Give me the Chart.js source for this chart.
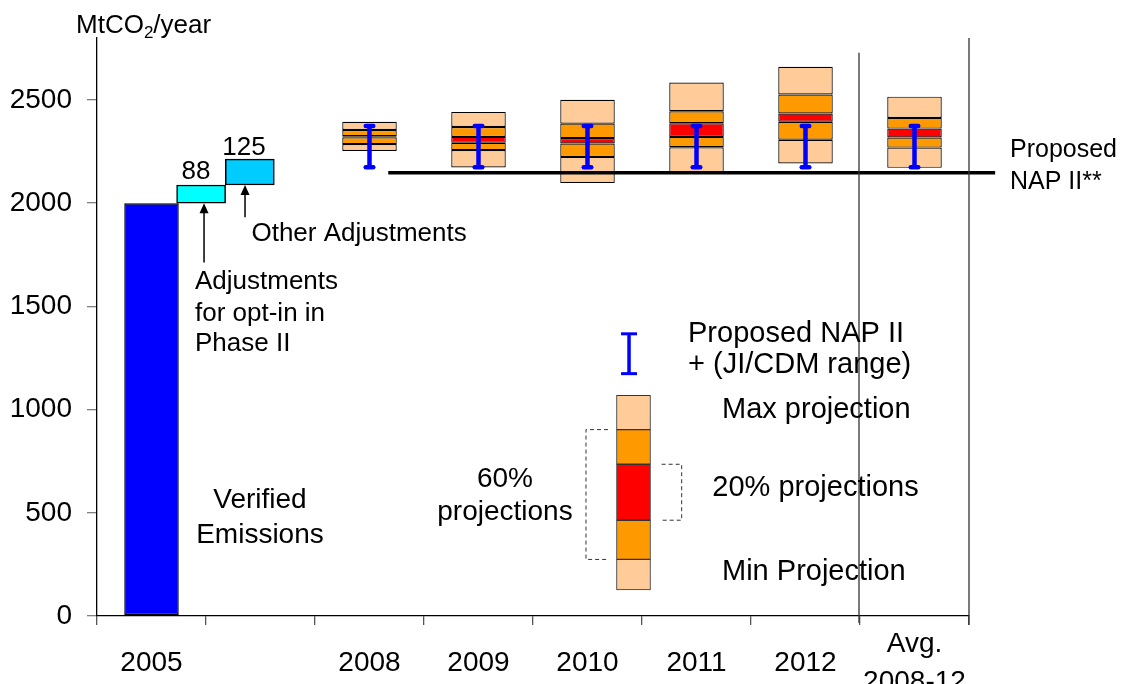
<!DOCTYPE html>
<html>
<head>
<meta charset="utf-8">
<script src="https://cdn.jsdelivr.net/npm/chart.js@4.4.1/dist/chart.umd.min.js"></script>
<style>
  html, body { margin: 0; padding: 0; background: #fff; }
  canvas { display: block; }
</style>
</head>
<body>
<canvas id="nap-chart" width="1123" height="684"></canvas>
<script>
const FONT = "'Liberation Sans', Arial, sans-serif";

// x axis categories
const categories = ["2005", "", "2008", "2009", "2010", "2011", "2012", ["Avg.", "2008-12"]];

// y axis ticks
const yTicks = [0, 500, 1000, 1500, 2000, 2500];

// verified emissions 2005
const verified = [2000, null, null, null, null, null, null, null];

// adjustments stacked on top of 2005
const adjustments = [88, 125];

// projection bands, MtCO2/year
const projMin    = [null, null, 2253, 2173, 2097, 2145, 2192, 2171];
const proj60Low  = [null, null, 2286, 2257, 2224, 2271, 2307, 2269];
const proj20Low  = [null, null, 2319, 2292, 2289, 2321, 2394, 2318];
const proj20High = [null, null, 2324, 2321, 2315, 2387, 2434, 2361];
const proj60High = [null, null, 2354, 2369, 2385, 2445, 2526, 2413];
const projMax    = [null, null, 2394, 2442, 2501, 2584, 2661, 2516];

// proposed NAP II + JI/CDM range
const napLow  = [null, null, 2174, 2174, 2174, 2174, 2174, 2174];
const napHigh = [null, null, 2374, 2374, 2374, 2374, 2374, 2374];
const napProposed = 2147;

// key (legend) drawn inside the plot
const keyBands = [126, 274, 464, 735, 903, 1069];
const keyRange = [1174, 1367];

const PEACH = "#FFCC99";
const ORANGE = "#FF9900";
const RED = "#FF0000";

// waterfall steps from the 2005 value
const waterfall = [];
let running = verified[0];
const stepPos = [0.955, 1.402];
adjustments.forEach((a, i) => {
	waterfall.push({ x: stepPos[i], y: [running, running + a] });
	running += a;
});

function band(lo, hi, color) {
	return {
		type: "bar",
		data: lo.map((v, i) => (v == null ? null : [v, hi[i]])),
		backgroundColor: color,
		borderColor: "#000",
		borderWidth: 1.2,
		borderSkipped: false,
		grouped: false,
		categoryPercentage: 0.5,
		barPercentage: 1,
		order: 3,
	};
}

const keyX = 4.922;
function keyBand(i, color) {
	return {
		type: "bar",
		xAxisID: "xw",
		data: [{ x: keyX, y: [keyBands[i], keyBands[i + 1]] }],
		backgroundColor: color,
		borderColor: "#333",
		borderWidth: 1,
		borderSkipped: false,
		grouped: false,
		barThickness: 34,
		categoryPercentage: 1,
		barPercentage: 1,
		order: 3,
	};
}

// text labels: u = position on the 0..8 helper axis, v = value axis
const notes = [
	{ t: "88", u: 0.908, v: 2119, a: "center", s: 26 },
	{ t: "125", u: 1.349, v: 2231, a: "center", s: 26 },
	{ t: "Other Adjustments", u: 1.417, v: 1819, a: "left", s: 26 },
	{ t: "Adjustments", u: 0.899, v: 1586, a: "left", s: 26 },
	{ t: "for opt-in in", u: 0.899, v: 1429, a: "left", s: 26 },
	{ t: "Phase II", u: 0.899, v: 1284, a: "left", s: 26 },
	{ t: "Verified", u: 1.495, v: 525, a: "center", s: 28 },
	{ t: "Emissions", u: 1.495, v: 353, a: "center", s: 28 },
	{ t: "60%", u: 3.743, v: 624, a: "center", s: 28 },
	{ t: "projections", u: 3.743, v: 466, a: "center", s: 28 },
	{ t: "Proposed NAP II", u: 5.422, v: 1328, a: "left", s: 29 },
	{ t: "+ (JI/CDM range)", u: 5.422, v: 1175, a: "left", s: 29 },
	{ t: "Max projection", u: 5.734, v: 957, a: "left", s: 29 },
	{ t: "20% projections", u: 5.645, v: 583, a: "left", s: 29 },
	{ t: "Min Projection", u: 5.734, v: 176, a: "left", s: 29 },
	{ t: "Proposed", u: 8.376, v: 2222, a: "left", s: 25 },
	{ t: "NAP II**", u: 8.376, v: 2070, a: "left", s: 25 },
];

function drawRange(ctx, x, top, bottom, capW, stemW, capH, round) {
	ctx.save();
	ctx.strokeStyle = "#0000FF";
	ctx.lineCap = "butt";
	ctx.lineWidth = stemW;
	ctx.beginPath();
	ctx.moveTo(x, top);
	ctx.lineTo(x, bottom);
	ctx.stroke();
	ctx.lineWidth = capH;
	ctx.lineCap = round ? "round" : "butt";
	const half = round ? capW / 2 - capH / 2 : capW / 2;
	[top, bottom].forEach((yy) => {
		ctx.beginPath();
		ctx.moveTo(x - half, yy);
		ctx.lineTo(x + half, yy);
		ctx.stroke();
	});
	ctx.restore();
}

function arrow(ctx, x, y0, y1) {
	ctx.save();
	ctx.strokeStyle = "#000";
	ctx.fillStyle = "#000";
	ctx.lineWidth = 1.5;
	ctx.beginPath();
	ctx.moveTo(x, y0);
	ctx.lineTo(x, y1 + 8);
	ctx.stroke();
	ctx.beginPath();
	ctx.moveTo(x, y1);
	ctx.lineTo(x - 4.5, y1 + 10);
	ctx.lineTo(x + 4.5, y1 + 10);
	ctx.closePath();
	ctx.fill();
	ctx.restore();
}

const annotate = {
	id: "annotate",
	afterDatasetsDraw(chart) {
		const { ctx, chartArea, scales } = chart;
		const { x, y, xw } = scales;
		const px = (u) => xw.getPixelForValue(u);
		const py = (v) => y.getPixelForValue(v);

		// separators for the average column
		ctx.save();
		ctx.strokeStyle = "#333";
		ctx.lineWidth = 1.3;
		ctx.beginPath();
		ctx.moveTo(px(7) - 1, py(2729));
		ctx.lineTo(px(7) - 1, py(0) + 7);
		ctx.moveTo(px(8), py(2800));
		ctx.lineTo(px(8), py(0) + 9);
		ctx.stroke();
		ctx.restore();

		// NAP II + JI/CDM ranges
		napLow.forEach((lo, i) => {
			if (lo == null) return;
			drawRange(ctx, x.getPixelForValue(i), py(napHigh[i]), py(lo), 12, 4.5, 4.5, true);
		});

		// key
		drawRange(ctx, px(4.881), py(keyRange[1]), py(keyRange[0]), 16, 3.5, 3, false);

		ctx.save();
		ctx.strokeStyle = "#333";
		ctx.lineWidth = 1;
		ctx.setLineDash([4, 3]);
		ctx.beginPath();
		ctx.moveTo(px(4.688), py(keyBands[4]));
		ctx.lineTo(px(4.486), py(keyBands[4]));
		ctx.lineTo(px(4.486), py(keyBands[1]));
		ctx.lineTo(px(4.688), py(keyBands[1]));
		ctx.moveTo(px(5.18), py(keyBands[3]));
		ctx.lineTo(px(5.364), py(keyBands[3]));
		ctx.lineTo(px(5.364), py(keyBands[2]));
		ctx.lineTo(px(5.18), py(keyBands[2]));
		ctx.stroke();
		ctx.restore();

		// arrows to the adjustment steps
		arrow(ctx, px(0.982), py(1713), py(waterfall[0].y[0]));
		arrow(ctx, px(1.358), py(1932), py(waterfall[1].y[0]));

		// texts
		ctx.save();
		ctx.fillStyle = "#000";
		ctx.textBaseline = "alphabetic";
		notes.forEach((n) => {
			ctx.font = n.s + "px " + FONT;
			ctx.textAlign = n.a;
			ctx.fillText(n.t, px(n.u), py(n.v));
		});

		// axis title with subscript
		let tx = chartArea.left - 21;
		const ty = chartArea.top - 5;
		ctx.textAlign = "left";
		ctx.font = "26px " + FONT;
		ctx.fillText("MtCO", tx, ty);
		tx += ctx.measureText("MtCO").width;
		ctx.font = "17px " + FONT;
		ctx.fillText("2", tx, ty + 5);
		tx += ctx.measureText("2").width;
		ctx.font = "26px " + FONT;
		ctx.fillText("/year", tx, ty);
		ctx.restore();
	},
};

const NapChart = new Chart(document.getElementById("nap-chart"), {
	type: "bar",
	data: {
		labels: categories,
		datasets: [
			{
				type: "bar",
				data: verified.map((v) => (v == null ? null : [0, v])),
				backgroundColor: "#0000FF",
				borderColor: "#000",
				borderWidth: 1.5,
				borderSkipped: false,
				grouped: false,
				categoryPercentage: 0.5,
				barPercentage: 1,
				order: 3,
			},
			{
				type: "bar",
				xAxisID: "xw",
				data: waterfall,
				backgroundColor: ["#00FFFF", "#00CCFF"],
				borderColor: "#000",
				borderWidth: 1.5,
				borderSkipped: false,
				grouped: false,
				barThickness: 49,
				categoryPercentage: 1,
				barPercentage: 1,
				order: 3,
			},
			band(projMin, proj60Low, PEACH),
			band(proj60Low, proj20Low, ORANGE),
			band(proj20Low, proj20High, RED),
			band(proj20High, proj60High, ORANGE),
			band(proj60High, projMax, PEACH),
			keyBand(0, PEACH),
			keyBand(1, ORANGE),
			keyBand(2, RED),
			keyBand(3, ORANGE),
			keyBand(4, PEACH),
			{
				type: "line",
				xAxisID: "xw",
				data: [
					{ x: 2.672, y: napProposed },
					{ x: 8.24, y: napProposed },
				],
				borderColor: "#000",
				borderWidth: 3.5,
				pointRadius: 0,
				clip: false,
				order: 1,
			},
		],
	},
	options: {
		responsive: false,
		animation: false,
		layout: { padding: { top: 38, right: 154, left: 0, bottom: 0 } },
		plugins: {
			legend: { display: false },
			tooltip: { enabled: false },
		},
		scales: {
			x: {
				type: "category",
				offset: true,
				grid: {
					offset: true,
					drawOnChartArea: false,
					tickLength: 9,
					color: "#555",
					lineWidth: 1.3,
				},
				border: { color: "#000", width: 1.3 },
				ticks: {
					color: "#000",
					font: { family: FONT, size: 28, lineHeight: 1.38 },
					padding: 19,
					maxRotation: 0,
					autoSkip: false,
					crossAlign: "center",
				},
				afterFit: (s) => {
					s.height = 68;
				},
			},
			// helper axis in category-width units, used for the waterfall and key
			xw: {
				type: "linear",
				position: "top",
				offset: false,
				min: 0,
				max: 8,
				ticks: { display: false },
				grid: { display: false, drawTicks: false },
				border: { display: false },
				afterFit: (s) => {
					s.height = 0;
				},
			},
			y: {
				min: 0,
				max: 2800,
				stacked: false,
				afterBuildTicks: (s) => {
					s.ticks = yTicks.map((v) => ({ value: v }));
				},
				ticks: {
					color: "#000",
					font: { family: FONT, size: 28 },
					padding: 15,
					callback: (v) => String(v),
				},
				grid: {
					drawOnChartArea: false,
					tickLength: 10,
					color: "#808080",
					lineWidth: 1.3,
				},
				border: { color: "#000", width: 1.3 },
				afterFit: (s) => {
					s.width = 97;
				},
			},
		},
	},
	plugins: [annotate],
});
</script>
</body>
</html>
